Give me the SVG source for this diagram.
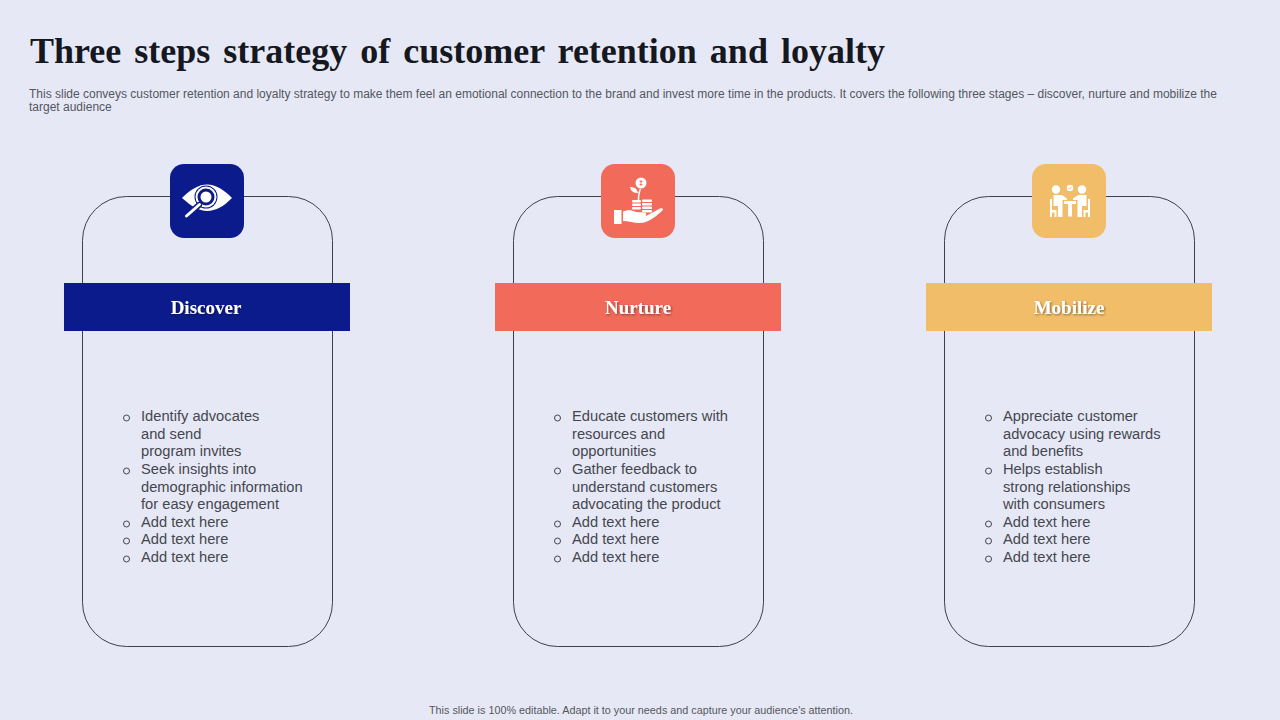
<svg xmlns="http://www.w3.org/2000/svg" width="1280" height="720" viewBox="0 0 1280 720">
<defs>
<filter id="ts" x="-20%" y="-40%" width="140%" height="180%"><feDropShadow dx="1" dy="1" stdDeviation="0.8" flood-color="#000" flood-opacity="0.45"/></filter>
</defs>
<style>
.title{font-family:"Liberation Serif","Times New Roman",serif;font-weight:700;font-size:36px;fill:#16181f;word-spacing:4px}
.sub{font-family:"Liberation Sans",Arial,sans-serif;font-size:12px;fill:#55565f}
.foot{font-family:"Liberation Sans",Arial,sans-serif;font-size:10.8px;fill:#55565f}
.card{fill:none;stroke:#3e404a;stroke-width:1}
.band-label{font-family:"Liberation Serif","Times New Roman",serif;font-weight:700;font-size:19px;fill:#fff;text-anchor:middle;filter:url(#ts)}
.li{font-family:"Liberation Sans",Arial,sans-serif;font-size:14.7px;fill:#45464f}
.dot{fill:none;stroke:#45464f;stroke-width:1}
.w{fill:#fff}
.wl{fill:none;stroke:#fff}
</style>
<rect width="1280" height="720" fill="#e6e9f5"/>
<text class="title" x="30" y="63">Three steps strategy of customer retention and loyalty</text>
<text class="sub" x="29" y="98">This slide conveys customer retention and loyalty strategy to make them feel an emotional connection to the brand and invest more time in the products. It covers the following three stages – discover, nurture and mobilize the</text>
<text class="sub" x="29" y="111">target audience</text>

<g id="discover">
<rect class="card" x="82.500" y="196.500" width="250" height="450" rx="44"/>
<rect x="64" y="283" width="286" height="48" fill="#0c1b8b"/>
<text class="band-label" x="206" y="314">Discover</text>
<rect x="170" y="164" width="74" height="74" rx="14" fill="#0c1b8b"/>
<path class="w" d="M182 198C191 189 199 184.500 207 184.500C216 184.500 224 190 232 198C224 206 216 211 207 211C199 211 191 206 182 198Z"/>
<circle cx="206" cy="197" r="11.500" fill="#0c1b8b"/>
<circle class="wl" cx="206" cy="197" r="9.500" stroke-width="2"/>
<circle class="w" cx="206" cy="197" r="5.500"/>
<path d="M199 205L186 216.500" fill="none" stroke="#0c1b8b" stroke-width="6" stroke-linecap="round"/>
<path class="wl" d="M199.500 204.500L186.500 216" stroke-width="3" stroke-linecap="round"/>
<circle class="dot" cx="126.500" cy="418" r="3"/><circle class="dot" cx="126.500" cy="471" r="3"/><circle class="dot" cx="126.500" cy="524" r="3"/><circle class="dot" cx="126.500" cy="541" r="3"/><circle class="dot" cx="126.500" cy="559" r="3"/>
<text class="li" x="141" y="421">Identify advocates</text>
<text class="li" x="141" y="439">and send</text>
<text class="li" x="141" y="456">program invites</text>
<text class="li" x="141" y="474">Seek insights into</text>
<text class="li" x="141" y="492">demographic information</text>
<text class="li" x="141" y="509">for easy engagement</text>
<text class="li" x="141" y="527">Add text here</text>
<text class="li" x="141" y="544">Add text here</text>
<text class="li" x="141" y="562">Add text here</text>
</g>

<g id="nurture">
<rect class="card" x="513.500" y="196.500" width="250" height="450" rx="44"/>
<rect x="495" y="283" width="286" height="48" fill="#f26a5a"/>
<text class="band-label" x="638" y="314">Nurture</text>
<rect x="601" y="164" width="74" height="74" rx="14" fill="#f26a5a"/>
<circle class="w" cx="641" cy="183" r="5.500"/>
<path d="M641 180V186M639.500 181.500H642.500M639.500 184.500H642.500" stroke="#f26a5a" stroke-width="0.900" fill="none"/>
<path class="wl" d="M638.500 200C638.500 195 639 192 640.500 189" stroke-width="1.500"/>
<path class="w" d="M638 193C633 193 631 191 630 187C635 187 637 189 638 193Z"/>
<rect class="w" x="632" y="200" width="9" height="2.500" rx="1"/><rect class="w" x="632" y="203.500" width="9" height="2.500" rx="1"/><rect class="w" x="632" y="207" width="9" height="2.500" rx="1"/>
<rect class="w" x="642" y="199.500" width="10" height="2.500" rx="1"/><rect class="w" x="642" y="203" width="10" height="2.500" rx="1"/><rect class="w" x="642" y="206.500" width="10" height="2.500" rx="1"/><rect class="w" x="642" y="210" width="10" height="2.500" rx="1"/>
<path class="w" d="M614 210H621.500V224H614ZM623 211.500C628 209.500 632 210 636 212L644 212.500C647 213 647 216 644 216.500L637 217L646 216L660 208.500C663 207.500 664 209.500 662 211C655 217 648 223 640 223C634 223 628 221 623 221Z"/>
<circle class="dot" cx="557.500" cy="418" r="3"/><circle class="dot" cx="557.500" cy="471" r="3"/><circle class="dot" cx="557.500" cy="524" r="3"/><circle class="dot" cx="557.500" cy="541" r="3"/><circle class="dot" cx="557.500" cy="559" r="3"/>
<text class="li" x="572" y="421">Educate customers with</text>
<text class="li" x="572" y="439">resources and</text>
<text class="li" x="572" y="456">opportunities</text>
<text class="li" x="572" y="474">Gather feedback to</text>
<text class="li" x="572" y="492">understand customers</text>
<text class="li" x="572" y="509">advocating the product</text>
<text class="li" x="572" y="527">Add text here</text>
<text class="li" x="572" y="544">Add text here</text>
<text class="li" x="572" y="562">Add text here</text>
</g>

<g id="mobilize">
<rect class="card" x="944.500" y="196.500" width="250" height="450" rx="44"/>
<rect x="926" y="283" width="286" height="48" fill="#f1bd68"/>
<text class="band-label" x="1069" y="314">Mobilize</text>
<rect x="1032" y="164" width="74" height="74" rx="14" fill="#f1bd68"/>
<circle class="w" cx="1056" cy="189.500" r="4.200"/><circle class="w" cx="1082" cy="189.500" r="4.200"/><circle class="w" cx="1070" cy="188" r="3.300"/>
<path d="M1068.500 188L1069.700 189.300L1071.800 186.800" stroke="#f1bd68" stroke-width="0.800" fill="none"/>
<path class="w" d="M1053.500 195H1062L1067 198.500V200H1062.500V217H1058V206H1053.500Z"/>
<path class="w" d="M1086.500 195H1078L1073 198.500V200H1077.500V217H1082V206H1086.500Z"/>
<path class="w" d="M1050 199H1052V210H1056.500V217H1054.500V212.500H1052V217H1050Z"/>
<path class="w" d="M1090 199H1088V210H1083.500V217H1085.500V212.500H1088V217H1090Z"/>
<rect class="w" x="1064" y="201" width="12" height="3"/><rect class="w" x="1068" y="204" width="4" height="12.500"/>
<circle class="dot" cx="988.500" cy="418" r="3"/><circle class="dot" cx="988.500" cy="471" r="3"/><circle class="dot" cx="988.500" cy="524" r="3"/><circle class="dot" cx="988.500" cy="541" r="3"/><circle class="dot" cx="988.500" cy="559" r="3"/>
<text class="li" x="1003" y="421">Appreciate customer</text>
<text class="li" x="1003" y="439">advocacy using rewards</text>
<text class="li" x="1003" y="456">and benefits</text>
<text class="li" x="1003" y="474">Helps establish</text>
<text class="li" x="1003" y="492">strong relationships</text>
<text class="li" x="1003" y="509">with consumers</text>
<text class="li" x="1003" y="527">Add text here</text>
<text class="li" x="1003" y="544">Add text here</text>
<text class="li" x="1003" y="562">Add text here</text>
</g>
<g id="connectors"/>
<text class="foot" x="429" y="714">This slide is 100% editable. Adapt it to your needs and capture your audience's attention.</text>
</svg>
